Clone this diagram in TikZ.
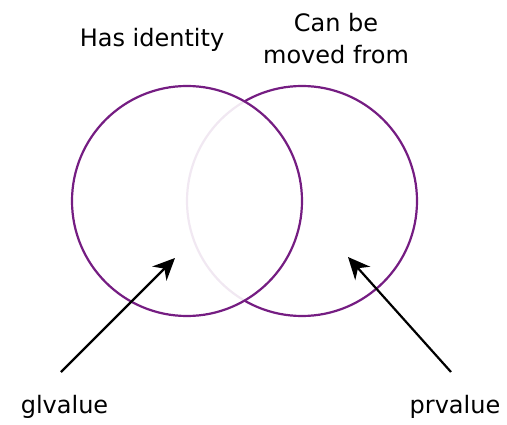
\documentclass[tikz,border=0pt]{standalone}
\usepackage{fontspec}
\setmainfont{DejaVu Sans}
\usetikzlibrary{arrows.meta}
\definecolor{vennpurple}{HTML}{751D82}
\begin{document}
\begin{tikzpicture}[x=1pt,y=1pt,
  venn/.style={draw=vennpurple,line width=2.2pt},
  lbl/.style={font=\fontsize{24}{32}\selectfont,inner sep=0pt,align=center},
  pointer/.style={draw=black,line width=2.2pt,-{Stealth[length=22pt,width=20pt,inset=7pt]}}]
\useasboundingbox (0,0) rectangle (507,424);
% right circle first, then left circle with translucent white fill
\draw[venn] (302,223) circle (115);
\draw[venn,fill=white,fill opacity=0.9] (187,223) circle (115);
\node[lbl,anchor=base] (hasid) at (152,377) {Has identity};
\node[lbl,anchor=base] (canbe) at (336,392) {Can be};
\node[lbl,anchor=base] (moved) at (336,360) {moved from};
\node[lbl,anchor=base] (gl) at (64.5,11) {glvalue};
\node[lbl,anchor=base] (pr) at (455,11) {prvalue};
\coordinate (glstart) at (61,52);
\coordinate (gltip) at (175,166);
\coordinate (prstart) at (451,52);
\coordinate (prtip) at (348,167);
\draw[pointer] (glstart) -- (gltip);
\draw[pointer] (prstart) -- (prtip);
\end{tikzpicture}
\end{document}
